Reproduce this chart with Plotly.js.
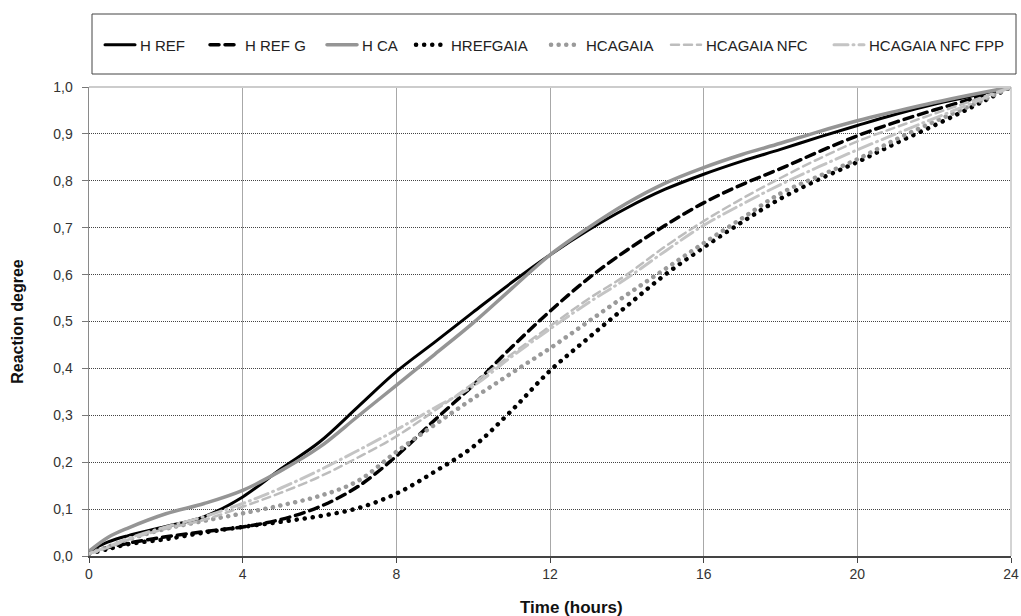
<!DOCTYPE html>
<html>
<head>
<meta charset="utf-8">
<script src="https://cdn.plot.ly/plotly-3.0.1.min.js"></script>
<style>
  html, body { margin: 0; padding: 0; background: #fff; }
  #chart { width: 1021px; height: 616px; }
  .js-line { stroke-linecap: round; }
</style>
</head>
<body>
<div id="chart"></div>
<script>
// Time (hours)
var timeHours = [0, 0.5, 1, 2, 3, 4, 5, 6, 7, 8, 9, 10, 11, 12, 13, 14, 15, 16, 17, 18, 19, 20, 21, 22, 23, 24];

var seriesNames = ["H REF", "H REF G", "H CA", "HREFGAIA", "HCAGAIA", "HCAGAIA NFC", "HCAGAIA NFC FPP"];

var hRef       = [0.010, 0.030, 0.043, 0.063, 0.084, 0.126, 0.186, 0.243, 0.318, 0.393, 0.456, 0.520, 0.583, 0.642, 0.695, 0.742, 0.782, 0.814, 0.842, 0.867, 0.893, 0.918, 0.942, 0.963, 0.981, 1.000];
var hRefG      = [0.008, 0.018, 0.027, 0.041, 0.052, 0.062, 0.078, 0.105, 0.148, 0.213, 0.290, 0.364, 0.445, 0.522, 0.592, 0.652, 0.705, 0.753, 0.792, 0.826, 0.862, 0.896, 0.925, 0.951, 0.975, 1.000];
var hCa        = [0.010, 0.040, 0.059, 0.090, 0.112, 0.140, 0.182, 0.232, 0.298, 0.364, 0.430, 0.497, 0.570, 0.642, 0.700, 0.752, 0.795, 0.828, 0.856, 0.880, 0.905, 0.928, 0.948, 0.967, 0.984, 1.000];
var hRefGaia   = [0.005, 0.015, 0.025, 0.036, 0.050, 0.062, 0.073, 0.085, 0.102, 0.133, 0.180, 0.233, 0.310, 0.395, 0.465, 0.533, 0.600, 0.658, 0.712, 0.762, 0.803, 0.840, 0.880, 0.918, 0.958, 1.000];
var hCaGaia    = [0.005, 0.020, 0.035, 0.058, 0.075, 0.091, 0.108, 0.128, 0.160, 0.222, 0.280, 0.336, 0.390, 0.443, 0.500, 0.557, 0.612, 0.667, 0.720, 0.773, 0.810, 0.846, 0.888, 0.926, 0.962, 1.000];
var hCaGaiaNfc = [0.005, 0.018, 0.034, 0.058, 0.077, 0.105, 0.135, 0.169, 0.210, 0.255, 0.310, 0.368, 0.430, 0.490, 0.548, 0.600, 0.660, 0.714, 0.762, 0.806, 0.847, 0.884, 0.914, 0.943, 0.971, 1.000];
var hCaGaiaNfcFpp = [0.005, 0.020, 0.037, 0.062, 0.084, 0.112, 0.145, 0.183, 0.225, 0.269, 0.316, 0.362, 0.425, 0.484, 0.540, 0.592, 0.650, 0.705, 0.750, 0.792, 0.830, 0.866, 0.900, 0.933, 0.966, 1.000];

var xTickVals = [0, 4, 8, 12, 16, 20, 24];

var px0 = 89, px1 = 1011, py0 = 556, py1 = 87;
function fx(p) { return (p - px0) / (px1 - px0); }
function fy(p) { return (py0 - p) / (py0 - py1); }

// legend entry text start positions (px) for each series
var legendTextStart = [141, 246, 363, 452, 587, 707, 870];

function mk(i, y, color, width, dash) {
  return {
    type: 'scatter', mode: 'lines', name: seriesNames[i], x: timeHours, y: y,
    legend: i === 0 ? 'legend' : 'legend' + (i + 1),
    line: { color: color, width: width, dash: dash, shape: 'spline', smoothing: 1 },
    hoverinfo: 'skip'
  };
}

var data = [
  mk(0, hRef, '#000000', 3, 'solid'),
  mk(1, hRefG, '#000000', 3.5, '9px,6px'),
  mk(2, hCa, '#959595', 3.5, 'solid'),
  mk(3, hRefGaia, '#000000', 4.5, '0.1px,8px'),
  mk(4, hCaGaia, '#9a9a9a', 4.5, '0.1px,7.5px'),
  mk(5, hCaGaiaNfc, '#bdbdbd', 2.5, '8px,5px'),
  mk(6, hCaGaiaNfcFpp, '#c4c4c4', 3, '14px,5px,1px,5px')
];

var layout = {
  width: 1021, height: 616,
  margin: { l: 89, r: 10, t: 87, b: 60, pad: 0 },
  paper_bgcolor: '#ffffff', plot_bgcolor: '#ffffff',
  separators: ',.',
  font: { family: 'Liberation Sans, Arial, sans-serif', color: '#333333', size: 14 },
  showlegend: true,
  xaxis: {
    range: [0, 24], tickvals: xTickVals, ticktext: xTickVals.map(String),
    showgrid: true, gridcolor: '#a8a8a8', gridwidth: 1,
    showline: true, linecolor: '#444444', linewidth: 1.5,
    ticks: 'outside', ticklen: 5, tickcolor: '#444444', tickwidth: 1,
    zeroline: false, tickfont: { size: 14, color: '#333333' },
    fixedrange: true
  },
  yaxis: {
    range: [0, 1], dtick: 0.1, tick0: 0, tickformat: '.1f',
    showgrid: true, gridcolor: '#444444', gridwidth: 1, griddash: '1px,1px',
    showline: true, linecolor: '#8a8a8a', linewidth: 1.5,
    ticks: 'outside', ticklen: 6, tickcolor: '#777777', tickwidth: 1,
    ticklabelstandoff: 6,
    zeroline: false, tickfont: { size: 14, color: '#333333' },
    title: { text: '<b>Reaction degree</b>', font: { size: 16, color: '#111111' }, standoff: 25 },
    fixedrange: true
  },
  shapes: [
    { type: 'line', xref: 'paper', yref: 'paper', x0: 0, x1: 1, y0: 1, y1: 1, line: { color: '#cccccc', width: 2 } },
    { type: 'line', xref: 'paper', yref: 'paper', x0: 1, x1: 1, y0: 0, y1: 1, line: { color: '#a8a8a8', width: 1 } },
    { type: 'rect', xref: 'paper', yref: 'paper', x0: fx(92), x1: fx(1016), y0: fy(74), y1: fy(14), line: { color: '#444444', width: 1 }, fillcolor: 'rgba(0,0,0,0)' }
  ],
  annotations: [
    { text: '<b>Time (hours)</b>', xref: 'paper', yref: 'paper', x: fx(571), y: fy(607), xanchor: 'center', yanchor: 'middle', showarrow: false, font: { size: 17, color: '#111111' } }
  ]
};

for (var i = 0; i < seriesNames.length; i++) {
  var key = i === 0 ? 'legend' : 'legend' + (i + 1);
  layout[key] = {
    orientation: 'h', x: fx(legendTextStart[i] - 41), xanchor: 'left', y: fy(45), yanchor: 'middle',
    bgcolor: 'rgba(0,0,0,0)', borderwidth: 0,
    font: { family: 'Liberation Sans, Arial, sans-serif', size: 15, color: '#222222' }
  };
}

Plotly.newPlot('chart', data, layout, { displayModeBar: false, staticPlot: true });
</script>
</body>
</html>
